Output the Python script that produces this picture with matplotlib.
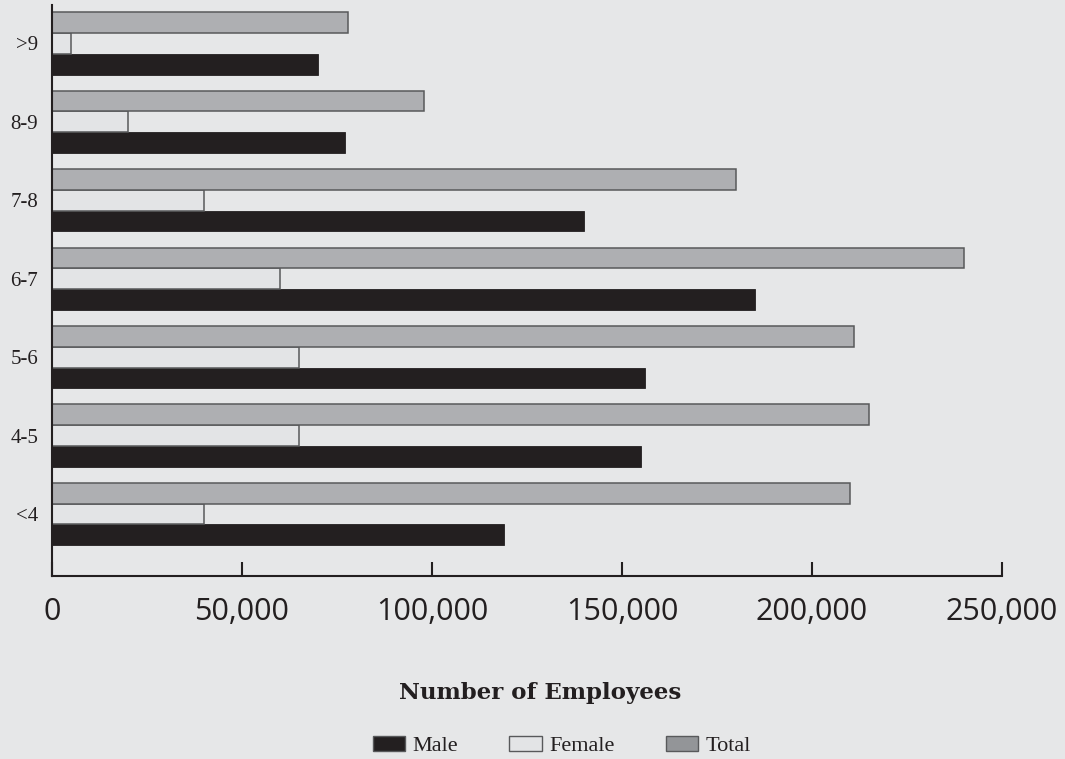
import numpy as np
import matplotlib.pyplot as plt
from matplotlib.patches import Patch
from matplotlib.ticker import FuncFormatter

# salary bands (bottom to top) and employee counts
bands = ['<4', '4-5', '5-6', '6-7', '7-8', '8-9', '>9']
male = [119000, 155000, 156000, 185000, 140000, 77000, 70000]
female = [40000, 65000, 65000, 60000, 40000, 20000, 5000]
total = [210000, 215000, 211000, 240000, 180000, 98000, 78000]

bg = '#e6e7e8'
ink = '#231f20'

fig = plt.figure(figsize=(10.65, 7.59), dpi=100, facecolor=bg)
ax = fig.add_axes([0.0488, 0.2411, 0.892, 0.7523], facecolor=bg)

y = np.arange(len(bands))
h = 0.265
ax.barh(y - h, male, height=h, color=ink, edgecolor=ink, linewidth=0.6)
ax.barh(y, female, height=h, color='#e3e4e6', edgecolor='#58595b', linewidth=1.1)
ax.barh(y + h, total, height=h, color='#aeafb2', edgecolor='#58595b', linewidth=1.1)

ax.set_xlim(0, 250000)
ax.set_ylim(-0.79, 6.49)
ax.set_xticks(np.arange(0, 250001, 50000))
ax.xaxis.set_major_formatter(FuncFormatter(lambda v, p: '{:,.0f}'.format(v)))
ax.set_yticks(y)
ax.set_yticklabels(bands, fontfamily='Liberation Serif', fontsize=15, color=ink)

ax.tick_params(axis='x', direction='in', length=10, width=1.5, color=ink,
               pad=15, labelsize=22, labelcolor=ink)
ax.tick_params(axis='y', length=0, pad=10)
for lab in ax.get_xticklabels():
    lab.set_fontfamily('Open Sans')

for side in ['top', 'right']:
    ax.spines[side].set_visible(False)
for side in ['left', 'bottom']:
    ax.spines[side].set_linewidth(1.5)
    ax.spines[side].set_color(ink)

fig.text(540 / 1065, 1 - 693 / 759, 'Number of Employees', ha='center', va='center',
         fontfamily='DejaVu Serif', fontweight='bold', fontsize=16.5, color=ink)

handles = [Patch(facecolor=ink, edgecolor='#58595b', label='Male'),
           Patch(facecolor='#e3e4e6', edgecolor='#58595b', label='Female'),
           Patch(facecolor='#939598', edgecolor='#58595b', label='Total')]
fig.legend(handles=handles, loc='center', bbox_to_anchor=(562 / 1065, 1 - 746 / 759),
           ncol=3, frameon=False, prop={'family': 'Liberation Serif', 'size': 16},
           handlelength=1.45, handleheight=0.64, handletextpad=0.35, columnspacing=2.3,
           labelcolor=ink, borderpad=0)

fig.savefig('out.png', dpi=100, facecolor=bg)
